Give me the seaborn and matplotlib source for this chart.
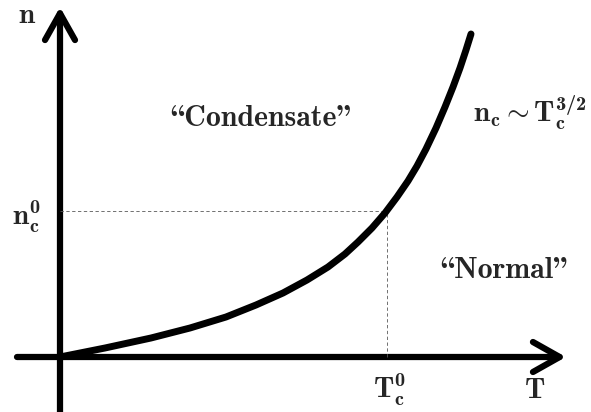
import numpy as np
import seaborn as sns
import matplotlib
matplotlib.use("Agg")
import matplotlib.pyplot as plt
from matplotlib.patches import FancyArrowPatch

# curve n_c(T) (T from origin, n up from axis)
T_vals = [0, 45, 91, 130, 166, 196, 223, 247, 268, 285, 298, 312, 325, 337, 348, 357, 366, 376, 385, 393, 400, 406, 411]
n_vals = [0, 9, 19, 29, 40, 52, 64, 77, 90, 103, 115, 129, 144, 160, 176, 191, 208, 229, 250, 270, 289, 307, 323]

# critical point
T_c0 = 327
n_c0 = 146

sns.set_theme(style="white")
plt.rcParams["mathtext.fontset"] = "custom"
plt.rcParams["mathtext.rm"] = "cmb10"
plt.rcParams["mathtext.bf"] = "cmb10"
plt.rcParams["mathtext.it"] = "cmb10"
plt.rcParams["mathtext.fallback"] = "cm"

fig = plt.figure(figsize=(5.91, 4.12), dpi=100)
ax = fig.add_axes([0, 0, 1, 1])
ax.set_xlim(-60, 531)
ax.set_ylim(-55, 357)
ax.axis("off")

# axes with arrows
for start, end in [((-43, 0), (506, 0)), ((0, -60), (0, 350))]:
    ax.add_patch(FancyArrowPatch(start, end, arrowstyle="->,head_length=1.6,head_width=0.9",
                                 lw=4.5, color="black", capstyle="round", joinstyle="round",
                                 mutation_scale=12, shrinkA=0, shrinkB=0))

# dashed guide lines
ax.plot([0, T_c0], [n_c0, n_c0], ls=(0, (4, 3)), lw=0.6, color="0.35")
ax.plot([T_c0, T_c0], [0, n_c0], ls=(0, (4, 3)), lw=0.6, color="0.35")

sns.lineplot(x=T_vals, y=n_vals, ax=ax, color="black", lw=5, sort=False,
             solid_capstyle="round", solid_joinstyle="round")

fs = 21
ax.text(-33, 342, r"$\mathbf{n}$", fontsize=fs, ha="center", va="center")
ax.text(-34, 140, r"$\mathbf{n}_\mathbf{c}^\mathbf{0}$", fontsize=fs, ha="center", va="center")
ax.text(T_c0 + 2, -33, r"$\mathbf{T}_\mathbf{c}^\mathbf{0}$", fontsize=fs, ha="center", va="center")
ax.text(475, -33, r"$\mathbf{T}$", fontsize=fs, ha="center", va="center")
ax.text(470, 244, r"$\mathbf{n}_\mathbf{c} \sim \mathbf{T}_\mathbf{c}^{\mathbf{3/2}}$",
        fontsize=fs, ha="center", va="center")
ax.text(201, 239, "\\Condensate\"", family="cmb10", fontsize=fs + 0.5, ha="center", va="center")
ax.text(444, 87, "\\Normal\"", family="cmb10", fontsize=fs + 0.5, ha="center", va="center")

fig.savefig("out.png", dpi=100)
